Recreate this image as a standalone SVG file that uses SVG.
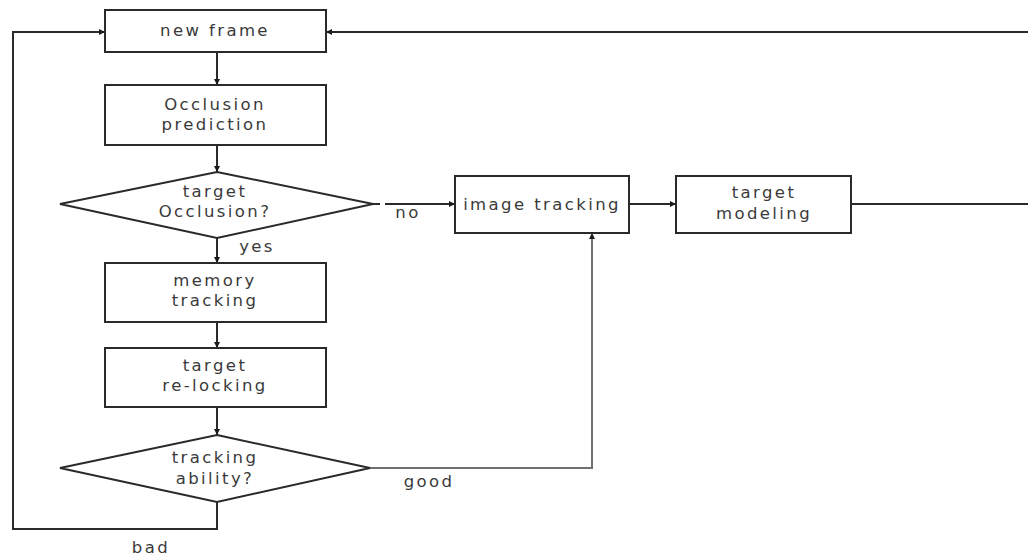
<svg xmlns="http://www.w3.org/2000/svg" width="1028" height="556" viewBox="0 0 1028 556">
  <style>
    .box { fill: #fff; stroke: #2a2a2a; stroke-width: 2; }
    .lbl { font-family: "DejaVu Sans", "Noto Sans", sans-serif; font-size: 16.5px; fill: #3a3a3a; text-anchor: middle; letter-spacing: 2.4px; }
    .edge { fill: none; stroke: #2a2a2a; stroke-width: 2; }
    .grey { stroke: #707070; }
  </style>
  <defs>
    <marker id="arr" viewBox="0 0 10 10" refX="10" refY="5" markerWidth="6" markerHeight="6" orient="auto" markerUnits="userSpaceOnUse">
      <path d="M0,0 L10,5 L0,10 z" fill="#1a1a1a"/>
    </marker>
  </defs>
  <rect width="1028" height="556" fill="#fff"/>

  <g id="connectors">
    <line class="edge" x1="217" y1="52" x2="217" y2="85" marker-end="url(#arr)"/>
    <line class="edge" x1="217" y1="145" x2="217" y2="172" marker-end="url(#arr)"/>
    <line class="edge" x1="217" y1="238" x2="217" y2="263" marker-end="url(#arr)"/>
    <line class="edge" x1="217" y1="322" x2="217" y2="348" marker-end="url(#arr)"/>
    <line class="edge" x1="217" y1="407" x2="217" y2="435" marker-end="url(#arr)"/>
    <!-- no branch -->
    <line class="edge" x1="373" y1="204" x2="380" y2="204"/>
    <line class="edge" x1="385" y1="204" x2="455" y2="204" marker-end="url(#arr)"/>
    <line class="edge" x1="629" y1="204" x2="676" y2="204" marker-end="url(#arr)"/>
    <!-- loop back from target modeling -->
    <polyline class="edge" points="851,204 1030,204 1030,32 326,32" marker-end="url(#arr)"/>
    <!-- bad loop -->
    <polyline class="edge" points="217,502 217,529 13,529 13,32 105,32" marker-end="url(#arr)"/>
    <!-- good branch -->
    <polyline class="edge grey" points="370,468 592,468 592,233" marker-end="url(#arr)"/>
    <text class="lbl" x="257" y="252">yes</text>
    <text class="lbl" x="408" y="218">no</text>
    <text class="lbl" x="429" y="487">good</text>
    <text class="lbl" x="151" y="553">bad</text>
  </g>

  <g id="new-frame">
    <rect class="box" x="105" y="10" width="221" height="42"/>
    <text class="lbl" x="215" y="36">new frame</text>
  </g>
  <g id="occlusion-prediction">
    <rect class="box" x="105" y="85" width="221" height="60"/>
    <text class="lbl" x="215" y="110">Occlusion</text>
    <text class="lbl" x="215" y="130">prediction</text>
  </g>
  <g id="target-occlusion">
    <polygon class="box" points="217,172 373,204 217,238 60,204"/>
    <text class="lbl" x="215" y="197">target</text>
    <text class="lbl" x="215" y="217">Occlusion?</text>
  </g>
  <g id="memory-tracking">
    <rect class="box" x="105" y="263" width="221" height="59"/>
    <text class="lbl" x="215" y="286">memory</text>
    <text class="lbl" x="215" y="306">tracking</text>
  </g>
  <g id="target-relocking">
    <rect class="box" x="105" y="348" width="221" height="59"/>
    <text class="lbl" x="215" y="371">target</text>
    <text class="lbl" x="215" y="391">re-locking</text>
  </g>
  <g id="tracking-ability">
    <polygon class="box" points="217,435 370,468 217,502 60,468"/>
    <text class="lbl" x="215" y="463">tracking</text>
    <text class="lbl" x="215" y="484">ability?</text>
  </g>
  <g id="image-tracking">
    <rect class="box" x="455" y="176" width="174" height="57"/>
    <text class="lbl" x="542" y="210">image tracking</text>
  </g>
  <g id="target-modeling">
    <rect class="box" x="676" y="176" width="175" height="57"/>
    <text class="lbl" x="764" y="198">target</text>
    <text class="lbl" x="764" y="219">modeling</text>
  </g>
</svg>
